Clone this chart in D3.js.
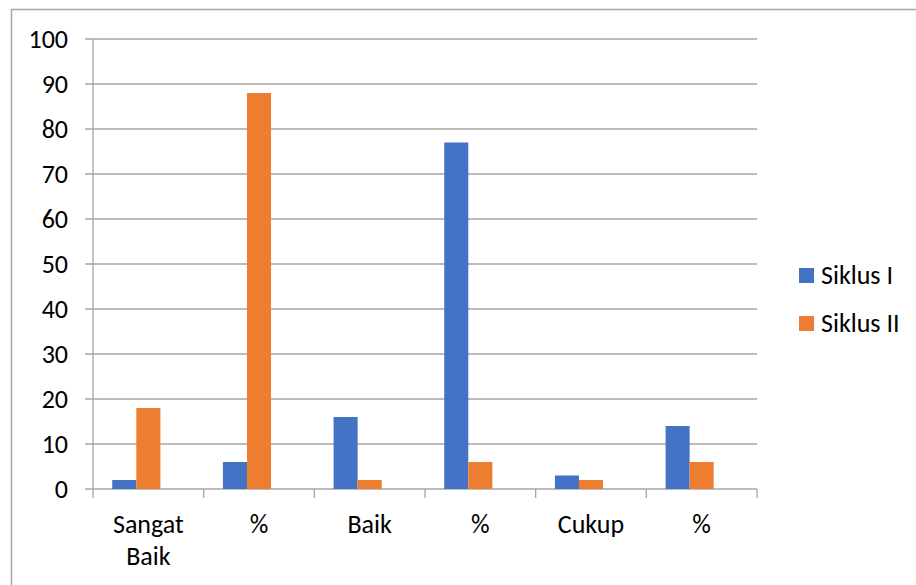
<!DOCTYPE html>
<html>
<head>
<meta charset="utf-8">
<script src="https://cdn.jsdelivr.net/npm/d3@7"></script>
<style>
  body { margin: 0; background: #fff; }
  text { font-family: Carlito, "Open Sans", "Liberation Sans", sans-serif; fill: #000; }
</style>
</head>
<body>
<div id="chart"></div>
<script>
// Data
const categories = [['Sangat', 'Baik'], ['%'], ['Baik'], ['%'], ['Cukup'], ['%']];
const siklus1 = [2, 6, 16, 77, 3, 14];
const siklus2 = [18, 88, 2, 6, 2, 6];
const seriesNames = ['Siklus I', 'Siklus II'];
const colors = ['#4472C4', '#ED7D31'];
const yTicks = [0, 10, 20, 30, 40, 50, 60, 70, 80, 90, 100];

const svg = d3.select('#chart')
    .append('svg')
    .attr('width', 916)
    .attr('height', 585);

// outer frame
svg.append('rect')
    .attr('x', 11.5).attr('y', 9.5)
    .attr('width', 920).attr('height', 600)
    .attr('fill', 'none')
    .attr('stroke', '#A6A6A6')
    .attr('stroke-width', 1.5);

const plot = {left: 93, right: 757, top: 39, bottom: 489};

const x = d3.scaleBand()
    .domain(d3.range(categories.length))
    .range([plot.left, plot.right]);

const y = d3.scaleLinear()
    .domain([0, 100])
    .range([plot.bottom, plot.top]);

// three slots per group (the third one is empty in the original)
const xs = d3.scaleBand()
    .domain([0, 1, 2])
    .range([0, x.bandwidth()])
    .paddingOuter(0.8)
    .paddingInner(0);

// gridlines
svg.append('g')
    .selectAll('line')
    .data(yTicks)
    .enter().append('line')
    .attr('x1', plot.left - 8).attr('x2', plot.right)
    .attr('y1', d => y(d)).attr('y2', d => y(d))
    .attr('stroke', '#A6A6A6')
    .attr('stroke-width', 1.3);

// y axis line
svg.append('line')
    .attr('x1', plot.left).attr('x2', plot.left)
    .attr('y1', plot.top).attr('y2', plot.bottom)
    .attr('stroke', '#A6A6A6')
    .attr('stroke-width', 1.3);

// y labels
svg.append('g')
    .selectAll('text')
    .data(yTicks)
    .enter().append('text')
    .attr('x', 68)
    .attr('y', d => y(d))
    .attr('dy', '0.35em')
    .attr('text-anchor', 'end')
    .attr('font-size', 26)
    .text(d => d);

// bars
const series = [siklus1, siklus2];
series.forEach((vals, s) => {
    svg.append('g')
        .selectAll('rect')
        .data(vals)
        .enter().append('rect')
        .attr('x', (d, i) => x(i) + xs(s))
        .attr('y', d => y(d))
        .attr('width', xs.bandwidth())
        .attr('height', d => plot.bottom - y(d))
        .attr('fill', colors[s]);
});

// x axis ticks at category boundaries
const bounds = d3.range(categories.length + 1).map(i => plot.left + i * x.bandwidth());
svg.append('g')
    .selectAll('line')
    .data(bounds)
    .enter().append('line')
    .attr('x1', d => d).attr('x2', d => d)
    .attr('y1', plot.bottom).attr('y2', plot.bottom + 9)
    .attr('stroke', '#A6A6A6')
    .attr('stroke-width', 1.3);

// x labels
const xl = svg.append('g')
    .selectAll('text')
    .data(categories)
    .enter().append('text')
    .attr('x', (d, i) => x(i) + x.bandwidth() / 2)
    .attr('y', 533)
    .attr('text-anchor', 'middle')
    .attr('font-size', 26);
xl.selectAll('tspan')
    .data(d => d)
    .enter().append('tspan')
    .attr('x', function () { return d3.select(this.parentNode).attr('x'); })
    .attr('dy', (d, i) => i === 0 ? 0 : 32)
    .text(d => d);

// legend
const legend = svg.append('g')
    .selectAll('g')
    .data(seriesNames)
    .enter().append('g')
    .attr('transform', (d, i) => `translate(799,${268 + i * 48})`);
legend.append('rect')
    .attr('width', 15).attr('height', 15)
    .attr('fill', (d, i) => colors[i]);
legend.append('text')
    .attr('x', 22).attr('y', 16)
    .attr('font-size', 26)
    .text(d => d);
</script>
</body>
</html>
